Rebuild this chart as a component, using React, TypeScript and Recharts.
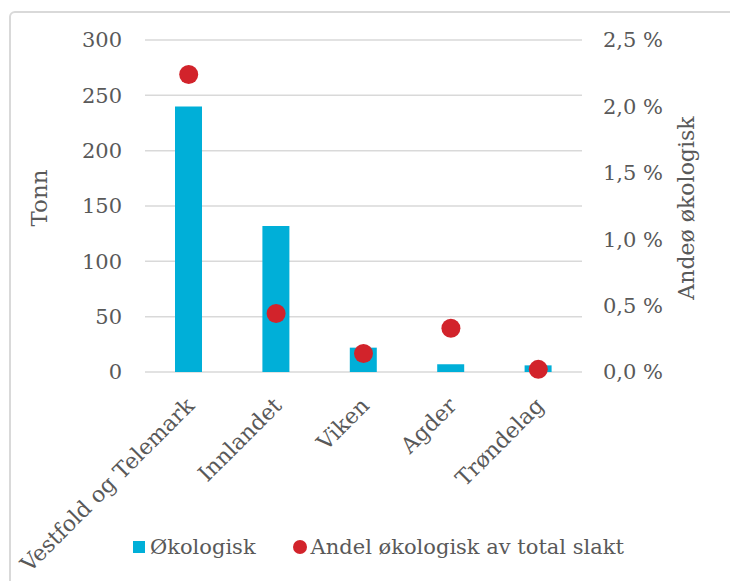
import React from 'react';
import { ComposedChart, Bar, Line, XAxis, YAxis, CartesianGrid, Legend } from 'recharts';

const regions = ['Vestfold og Telemark', 'Innlandet', 'Viken', 'Agder', 'Trøndelag'];
const tonnValues = [240, 132, 22, 7, 6];
const shareValues = [2.24, 0.44, 0.14, 0.33, 0.02];
const leftTicks = [0, 50, 100, 150, 200, 250, 300];
const rightTicks = [0, 0.5, 1.0, 1.5, 2.0, 2.5];

const data = regions.map((r, i) => ({ region: r, tonn: tonnValues[i], share: shareValues[i] }));

const FONT = "'DejaVu Serif', Georgia, serif";
const GREY = '#595959';
const BLUE = '#00AFD8';
const RED = '#D2232B';

const XTick = (props: any) => {
  const { x, y, payload } = props;
  return (
    <g transform={`translate(${x + 7},${y + 35})`}>
      <text transform="rotate(-45)" textAnchor="end" fill={GREY} fontSize={22} fontFamily={FONT}>
        {payload.value}
      </text>
    </g>
  );
};

const fmtPct = (v: number) => v.toFixed(1).replace('.', ',') + ' %';

const LegendContent = () => (
  <div style={{ display: 'flex', alignItems: 'center', fontFamily: FONT, fontSize: 21, color: GREY, paddingLeft: 133 }}>
    <span style={{ display: 'inline-block', width: 12, height: 12, background: BLUE, marginRight: 5 }} />
    <span>Økologisk</span>
    <span style={{ display: 'inline-block', width: 14, height: 14, borderRadius: 7, background: RED, marginLeft: 37, marginRight: 4 }} />
    <span>Andel økologisk av total slakt</span>
  </div>
);

export default function App() {
  return (
    <div style={{ position: 'fixed', left: 0, top: 0, width: 730, height: 581, overflow: 'hidden', background: '#fff' }}>
      <div style={{ position: 'absolute', left: 9, top: 11, width: 760, height: 620, border: '2px solid #d9d9d9', borderRadius: 6, boxSizing: 'border-box' }} />
      <div style={{ position: 'absolute', left: 0, top: 0 }}>
        <ComposedChart width={730} height={581} data={data} margin={{ top: 40, right: 0, bottom: 0, left: 0 }}>
          <CartesianGrid vertical={false} stroke="#d9d9d9" strokeWidth={1.5} yAxisId="left" />
          <XAxis dataKey="region" axisLine={false} tickLine={false} tickSize={0} tickMargin={0} height={209} interval={0} tick={<XTick />} />
          <YAxis
            yAxisId="left"
            orientation="left"
            width={145}
            domain={[0, 300]}
            ticks={leftTicks}
            axisLine={false}
            tickLine={false}
            tickSize={0}
            tickMargin={23}
            tick={{ fill: GREY, fontSize: 21, fontFamily: FONT }}
            label={{
              content: (p: any) => {
                const vb = p.viewBox;
                return (
                  <text x={vb.x + 47} y={vb.y + vb.height / 2 - 8} transform={`rotate(-90, ${vb.x + 47}, ${vb.y + vb.height / 2 - 8})`} textAnchor="middle" fill={GREY} fontSize={23} fontFamily={FONT}>
                    Tonn
                  </text>
                );
              },
            }}
          />
          <YAxis
            yAxisId="right"
            orientation="right"
            width={148}
            domain={[0, 2.5]}
            ticks={rightTicks}
            axisLine={false}
            tickLine={false}
            tickSize={0}
            tickMargin={21}
            tickFormatter={fmtPct}
            tick={{ fill: GREY, fontSize: 21, fontFamily: FONT }}
            label={{
              content: (p: any) => {
                const vb = p.viewBox;
                const cx = vb.x + 112;
                const cy = vb.y + vb.height / 2 + 2;
                return (
                  <text x={cx} y={cy} transform={`rotate(-90, ${cx}, ${cy})`} textAnchor="middle" fill={GREY} fontSize={22} fontFamily={FONT}>
                    Andeø økologisk
                  </text>
                );
              },
            }}
          />
          <Legend verticalAlign="middle" align="center" layout="horizontal" wrapperStyle={{ top: 535, left: 0, width: 730 }} content={<LegendContent />} />
          <Bar yAxisId="left" dataKey="tonn" name="Økologisk" fill={BLUE} barSize={27} isAnimationActive={false} />
          <Line yAxisId="right" dataKey="share" name="Andel økologisk av total slakt" stroke="none" dot={{ r: 9.5, fill: RED, stroke: 'none' }} activeDot={false} isAnimationActive={false} />
        </ComposedChart>
      </div>
    </div>
  );
}
